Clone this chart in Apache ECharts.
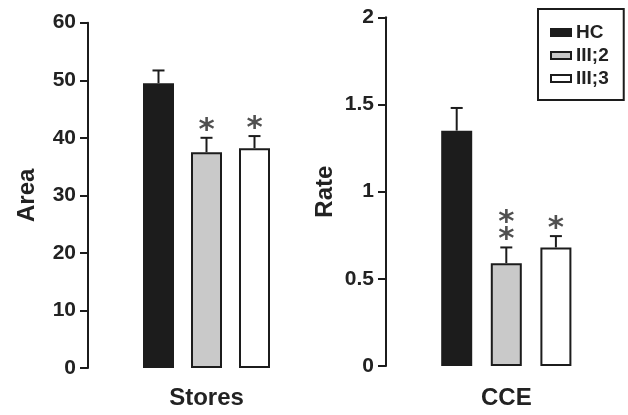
<!DOCTYPE html>
<html>
<head>
<meta charset="utf-8">
<script src="https://cdn.jsdelivr.net/npm/echarts@6/dist/echarts.min.js"></script>
<style>
html,body{margin:0;padding:0;background:#fff;}
#chart{width:628px;height:415px;}
</style>
</head>
<body>
<div id="chart"></div>
<script>
// ---- data ----
const groups = ["HC", "III;2", "III;3"];
const storesMean = [49.5, 37.5, 38.2];
const storesUpper = [51.7, 40.0, 40.3];
const storesStars = [0, 1, 1];
const cceMean = [1.35, 0.59, 0.68];
const cceUpper = [1.48, 0.68, 0.745];
const cceStars = [0, 2, 1];
const storesTicks = { min: 0, max: 60, interval: 10 };
const cceTicks = { min: 0, max: 2, interval: 0.5 };

// ---- style ----
const fills = ["#1c1c1c", "#c9c9c9", "#ffffff"];
const ink = "#1c1c1c";
const FONT = "Liberation Sans, Arial, sans-serif";
const BAR_W = 31;
const GAPS = [17, 18.6];

const chart = echarts.init(document.getElementById('chart'));

function yAxis(gridIndex, ticks, name) {
  return {
    type: 'value', gridIndex: gridIndex,
    min: ticks.min, max: ticks.max, interval: ticks.interval,
    name: name, nameLocation: 'middle', nameGap: 49,
    nameTextStyle: { fontFamily: FONT, fontWeight: 'bold', fontSize: 24, color: '#222' },
    axisLine: { show: true, lineStyle: { color: ink, width: 2 } },
    axisTick: { show: true, inside: false, length: 8, lineStyle: { color: ink, width: 2 } },
    axisLabel: { margin: 12, fontFamily: FONT, fontWeight: 'bold', fontSize: 21, color: '#222' },
    splitLine: { show: false }
  };
}
function xAxis(gridIndex, name, gap) {
  return {
    type: 'category', gridIndex: gridIndex, data: [name],
    name: name, nameLocation: 'middle', nameGap: gap,
    nameTextStyle: { fontFamily: FONT, fontWeight: 'bold', fontSize: 24, color: '#222' },
    axisLine: { show: false }, axisTick: { show: false }, axisLabel: { show: false }
  };
}

const series = [];
[[storesMean, 0], [cceMean, 1]].forEach(([vals, g]) => {
  groups.forEach((name, i) => {
    series.push({
      type: 'bar', name: name, xAxisIndex: g, yAxisIndex: g,
      data: [vals[i]], barWidth: BAR_W, barGap: (GAPS[g] / BAR_W * 100) + '%',
      itemStyle: { color: fills[i], borderColor: ink, borderWidth: 2 },
      emphasis: { disabled: true }, silent: true
    });
  });
});

function errSeries(g, means, uppers, stars) {
  const data = groups.map((_, i) => [0, means[i], uppers[i], i, stars[i]]);
  return {
    type: 'custom', xAxisIndex: g, yAxisIndex: g, silent: true, z: 5,
    data: data,
    encode: { x: 0, y: [1, 2] },
    renderItem: function (params, api) {
      const i = api.value(3);
      const n = api.value(4);
      const base = api.coord([0, api.value(1)]);
      const top = api.coord([0, api.value(2)]);
      const x = base[0] + (i - 1) * (BAR_W + GAPS[g]);
      const children = [
        { type: 'line', shape: { x1: x, y1: base[1], x2: x, y2: top[1] }, style: { stroke: ink, lineWidth: 2 } },
        { type: 'line', shape: { x1: x - 6, y1: top[1], x2: x + 6, y2: top[1] }, style: { stroke: ink, lineWidth: 2 } }
      ];
      for (let k = 0; k < n; k++) {
        children.push({
          type: 'text',
          style: { text: '*', x: x, y: top[1] - 14 - k * 17 + 7, align: 'center', verticalAlign: 'middle',
                   font: 'bold 31px DejaVu Sans', fill: '#505050' }
        });
      }
      return { type: 'group', children: children };
    }
  };
}
series.push(errSeries(0, storesMean, storesUpper, storesStars));
series.push(errSeries(1, cceMean, cceUpper, cceStars));

chart.setOption({
  animation: false,
  backgroundColor: '#fff',
  grid: [
    { left: 88, top: 22.7, width: 237, height: 350 },
    { left: 386, top: 17.3, width: 240.6, height: 352.7 }
  ],
  xAxis: [xAxis(0, 'Stores', 18), xAxis(1, 'CCE', 20)],
  yAxis: [yAxis(0, storesTicks, 'Area'), yAxis(1, cceTicks, 'Rate')],
  legend: {
    data: groups, orient: 'vertical', left: 538, top: 9,
    icon: 'rect',
    itemWidth: 20, itemHeight: 7, itemGap: 4,
    padding: [14, 15, 12, 12],
    borderColor: ink, borderWidth: 2, backgroundColor: '#fff',
    textStyle: { fontFamily: FONT, fontWeight: 'bold', fontSize: 19, color: '#222', padding: [0, 0, 0, 0] },
    selectedMode: false
  },
  series: series
});
</script>
</body>
</html>
